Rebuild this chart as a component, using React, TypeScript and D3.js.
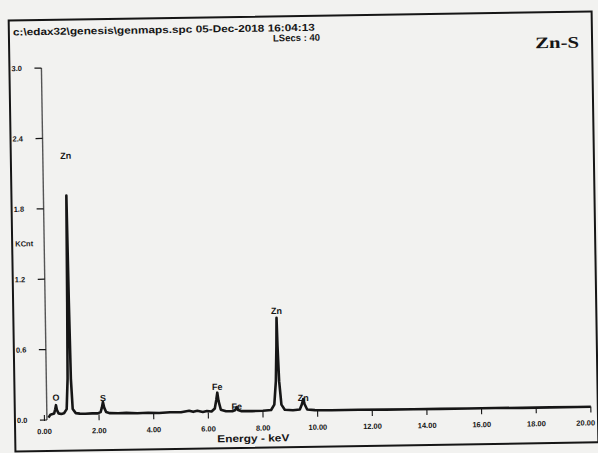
import React, { useEffect, useRef } from 'react';
import * as d3 from 'd3';

// EDX spectrum of the Zn-S film (energy in keV, counts in KCnt)
const spectrumEnergy = [
  0.15, 0.22, 0.30, 0.36, 0.40, 0.43, 0.46, 0.52, 0.62, 0.72,
  0.82, 0.87, 0.90, 0.93, 0.96, 0.99, 1.04, 1.15, 1.30, 1.50,
  1.75, 1.95, 2.06, 2.11, 2.15, 2.19, 2.26, 2.40, 2.70, 3.00,
  3.40, 3.80, 4.20, 4.60, 5.00, 5.30, 5.45, 5.60, 5.80, 5.95,
  6.12, 6.24, 6.30, 6.34, 6.38, 6.46, 6.65, 6.90, 6.99, 7.04,
  7.09, 7.20, 7.60, 8.00, 8.30, 8.42, 8.49, 8.53, 8.55, 8.57,
  8.61, 8.68, 8.80, 9.10, 9.35, 9.43, 9.48, 9.53, 9.62, 9.90,
  10.5, 11.5, 12.5, 13.5, 14.5, 15.5, 16.5, 17.5, 18.5, 19.5,
  20.0,
];
const spectrumCnt = [
  0.02, 0.045, 0.05, 0.055, 0.09, 0.125, 0.085, 0.055, 0.05, 0.055,
  0.09, 0.35, 1.0, 1.91, 1.0, 0.35, 0.09, 0.055, 0.05, 0.048,
  0.05, 0.05, 0.06, 0.1, 0.145, 0.1, 0.06, 0.05, 0.048, 0.05,
  0.045, 0.048, 0.045, 0.05, 0.048, 0.06, 0.05, 0.058, 0.048, 0.055,
  0.05, 0.075, 0.15, 0.21, 0.14, 0.065, 0.05, 0.05, 0.06, 0.085,
  0.06, 0.05, 0.048, 0.05, 0.055, 0.1, 0.3, 0.6, 0.84, 0.6,
  0.3, 0.1, 0.055, 0.05, 0.055, 0.1, 0.145, 0.1, 0.055, 0.048,
  0.045, 0.045, 0.043, 0.043, 0.042, 0.042, 0.042, 0.04, 0.04, 0.04,
  0.04,
];

// peak markers: element, energy, height of the label
const peakNames = ['O', 'Zn', 'S', 'Fe', 'Fe', 'Zn', 'Zn'];
const peakEnergy = [0.43, 0.93, 2.15, 6.34, 7.04, 8.55, 9.48];
const peakLabelCnt = [0.19, 2.25, 0.18, 0.26, 0.09, 0.9, 0.155];

const xTicks = [0, 2, 4, 6, 8, 10, 12, 14, 16, 18, 20];
const xTickLabels = ['0.00', '2.00', '4.00', '6.00', '8.00', '10.00', '12.00', '14.00', '16.00', '18.00', '20.00'];
const yTicks = [0, 0.6, 1.2, 1.8, 2.4, 3.0];
const yTickLabels = ['0.0', '0.6', '1.2', '1.8', '2.4', '3.0'];

const headerFile = 'c:\\edax32\\genesis\\genmaps.spc  05-Dec-2018 16:04:13';
const headerSecs = 'LSecs : 40';
const sampleName = 'Zn-S';

const W = 598;
const H = 453;
const INK = '#161616';
const SANS = '"Liberation Sans", Arial, sans-serif';

export default function App() {
  const svgRef = useRef<SVGSVGElement>(null);

  useEffect(() => {
    if (!svgRef.current) return;
    const svg = d3.select(svgRef.current);
    svg.selectAll('*').remove();
    svg.attr('width', W).attr('height', H);

    // paper
    svg.append('rect').attr('width', W).attr('height', H).attr('fill', '#f2f2f0');

    // the scan is slightly tilted
    const g = svg.append('g').attr('transform', 'rotate(-0.9 300 230)');

    const x = d3.scaleLinear().domain([0, 20]).range([41.5, 588]);
    const y = d3.scaleLinear().domain([0, 3]).range([416, 64]);

    // frame
    g.append('rect')
      .attr('x', 12).attr('y', 16)
      .attr('width', 583).attr('height', 431)
      .attr('fill', 'none')
      .attr('stroke', INK)
      .attr('stroke-width', 2);

    // header
    g.append('text')
      .attr('x', 16).attr('y', 31)
      .attr('font-family', SANS).attr('font-size', 10).attr('font-weight', 700)
      .attr('fill', INK)
      .attr('textLength', 302).attr('lengthAdjust', 'spacingAndGlyphs')
      .text(headerFile);
    g.append('text')
      .attr('x', 276).attr('y', 41)
      .attr('font-family', SANS).attr('font-size', 9.5).attr('font-weight', 700)
      .attr('fill', INK)
      .text(headerSecs);
    g.append('text')
      .attr('x', 538).attr('y', 52)
      .attr('font-family', '"Liberation Serif", "Times New Roman", serif')
      .attr('font-size', 16).attr('font-weight', 700)
      .attr('fill', INK)
      .attr('textLength', 44).attr('lengthAdjust', 'spacingAndGlyphs')
      .text(sampleName);

    // y axis
    g.append('line')
      .attr('x1', 44).attr('x2', 44)
      .attr('y1', y(3)).attr('y2', y(0))
      .attr('stroke', '#555').attr('stroke-width', 1.4);

    const yt = g.selectAll('.ytick')
      .data(yTicks)
      .enter()
      .append('g')
      .attr('class', 'ytick');
    yt.append('line')
      .attr('x1', 37).attr('x2', 44)
      .attr('y1', d => y(d)).attr('y2', d => y(d))
      .attr('stroke', INK).attr('stroke-width', 1.2);
    yt.append('text')
      .attr('x', 14).attr('y', d => y(d))
      .attr('dy', '0.35em')
      .attr('font-family', SANS).attr('font-size', 7.5).attr('font-weight', 700)
      .attr('fill', INK)
      .text((d, i) => yTickLabels[i]);

    g.append('text')
      .attr('x', 15).attr('y', 242)
      .attr('font-family', SANS).attr('font-size', 7.5).attr('font-weight', 700)
      .attr('fill', INK)
      .text('KCnt');

    // x axis ticks + labels
    const xt = g.selectAll('.xtick')
      .data(xTicks)
      .enter()
      .append('g')
      .attr('class', 'xtick');
    xt.append('line')
      .attr('x1', d => x(d)).attr('x2', d => x(d))
      .attr('y1', 411).attr('y2', 417)
      .attr('stroke', INK).attr('stroke-width', 1.1);
    xt.append('text')
      .attr('x', d => (d === 20 ? x(d) + 4 : x(d)))
      .attr('y', 430)
      .attr('text-anchor', d => (d === 20 ? 'end' : 'middle'))
      .attr('font-family', SANS).attr('font-size', 7.5).attr('font-weight', 700)
      .attr('fill', INK)
      .text((d, i) => xTickLabels[i]);

    g.append('text')
      .attr('x', 250).attr('y', 441)
      .attr('text-anchor', 'middle')
      .attr('font-family', SANS).attr('font-size', 10).attr('font-weight', 700)
      .attr('fill', INK)
      .attr('textLength', 72).attr('lengthAdjust', 'spacingAndGlyphs')
      .text('Energy - keV');

    // spectrum
    const line = d3.line<number>()
      .x(i => x(spectrumEnergy[i]))
      .y(i => y(spectrumCnt[i]));

    g.append('path')
      .attr('d', line(d3.range(spectrumEnergy.length)))
      .attr('fill', 'none')
      .attr('stroke', INK)
      .attr('stroke-width', 2.6)
      .attr('stroke-linejoin', 'round');

    // peak labels
    g.selectAll('.peak')
      .data(peakNames)
      .enter()
      .append('text')
      .attr('class', 'peak')
      .attr('x', (d, i) => x(peakEnergy[i]))
      .attr('y', (d, i) => y(peakLabelCnt[i]))
      .attr('dy', '0.35em')
      .attr('text-anchor', 'middle')
      .attr('font-family', SANS).attr('font-size', 9).attr('font-weight', 700)
      .attr('fill', INK)
      .text(d => d);
  }, []);

  return <svg ref={svgRef} style={{ position: 'fixed', left: 0, top: 0 }} />;
}
